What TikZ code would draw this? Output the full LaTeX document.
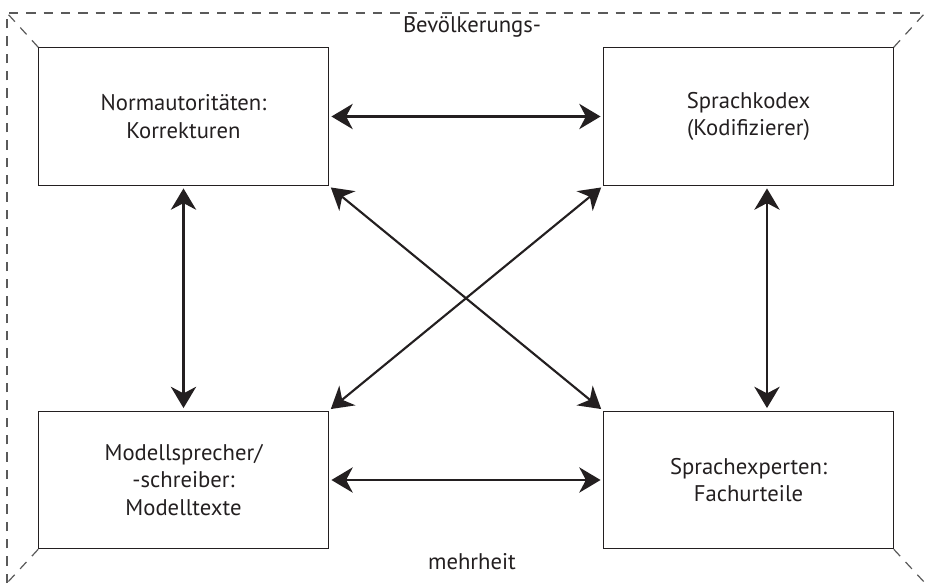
\documentclass[tikz,border=0pt]{standalone}
\usepackage{fontspec}
\setmainfont{PT Sans}
\usetikzlibrary{arrows.meta}
\definecolor{ink}{RGB}{35, 31, 32}
\definecolor{dashgray}{RGB}{90, 90, 90}

\tikzset{
    rolebox/.style  = {draw=ink, line width=0.9pt, minimum width=217pt, minimum height=103pt,
                       align=center, text=ink, font=\fontsize{17}{20.5}\selectfont},
    linkarrow/.style = {{Stealth[length=16pt, width=19pt, inset=5pt]}-{Stealth[length=16pt, width=19pt, inset=5pt]},
                       draw=ink, line width=1.6pt, shorten <=2pt, shorten >=2pt},
    frameline/.style = {draw=dashgray, line width=0.9pt, dash pattern=on 7pt off 6pt},
    framelabel/.style = {text=ink, font=\fontsize{17}{20}\selectfont}
}

\begin{document}
\begin{tikzpicture}[x=0.75pt, y=-0.75pt]
            \useasboundingbox                                          (0, 0) rectangle (925, 583);
            % boxes
            \node[rolebox] (norm)   at (183.5, 116.5) {Normautoritäten:\\Korrekturen};
            \node[rolebox] (kodex)  at (748.5, 116.5) {Sprachkodex\\(Kodifizierer)};
            \node[rolebox] (modell) at (183.5, 480.0) {Modellsprecher/\\-schreiber:\\Modelltexte};
            \node[rolebox] (expert) at (748.5, 480.0) {Sprachexperten:\\Fachurteile};
            % dashed frame
            \coordinate (fTL) at (  7,  13);
            \coordinate (fTR) at (925,  13);
            \coordinate (fBL) at (  7, 583);
            \coordinate (fBR) at (925, 583);
            \draw[frameline] (fBL) -- (fTL) -- (fTR);
            \draw[frameline] (norm.north west)   -- (fTL);
            \draw[frameline] (kodex.north east)  -- (fTR);
            \draw[frameline] (modell.south west) -- (fBL);
            \draw[frameline] (expert.south east) -- (fBR);
            \node[framelabel] (top) at (472, 27)  {Bevölkerungs-};
            \node[framelabel] (bot) at (472, 562) {mehrheit};
            % arrows
            \draw[linkarrow] (norm.east)  -- (kodex.west);
            \draw[linkarrow] (modell.east) -- (expert.west);
            \draw[linkarrow] (norm.south)  -- (modell.north);
            \draw[linkarrow] (kodex.south -| 767, 0) -- (expert.north -| 767, 0);
            \draw[linkarrow] (norm.south east)  -- (expert.north west);
            \draw[linkarrow] (kodex.south west) -- (modell.north east);
\end{tikzpicture}
\end{document}
